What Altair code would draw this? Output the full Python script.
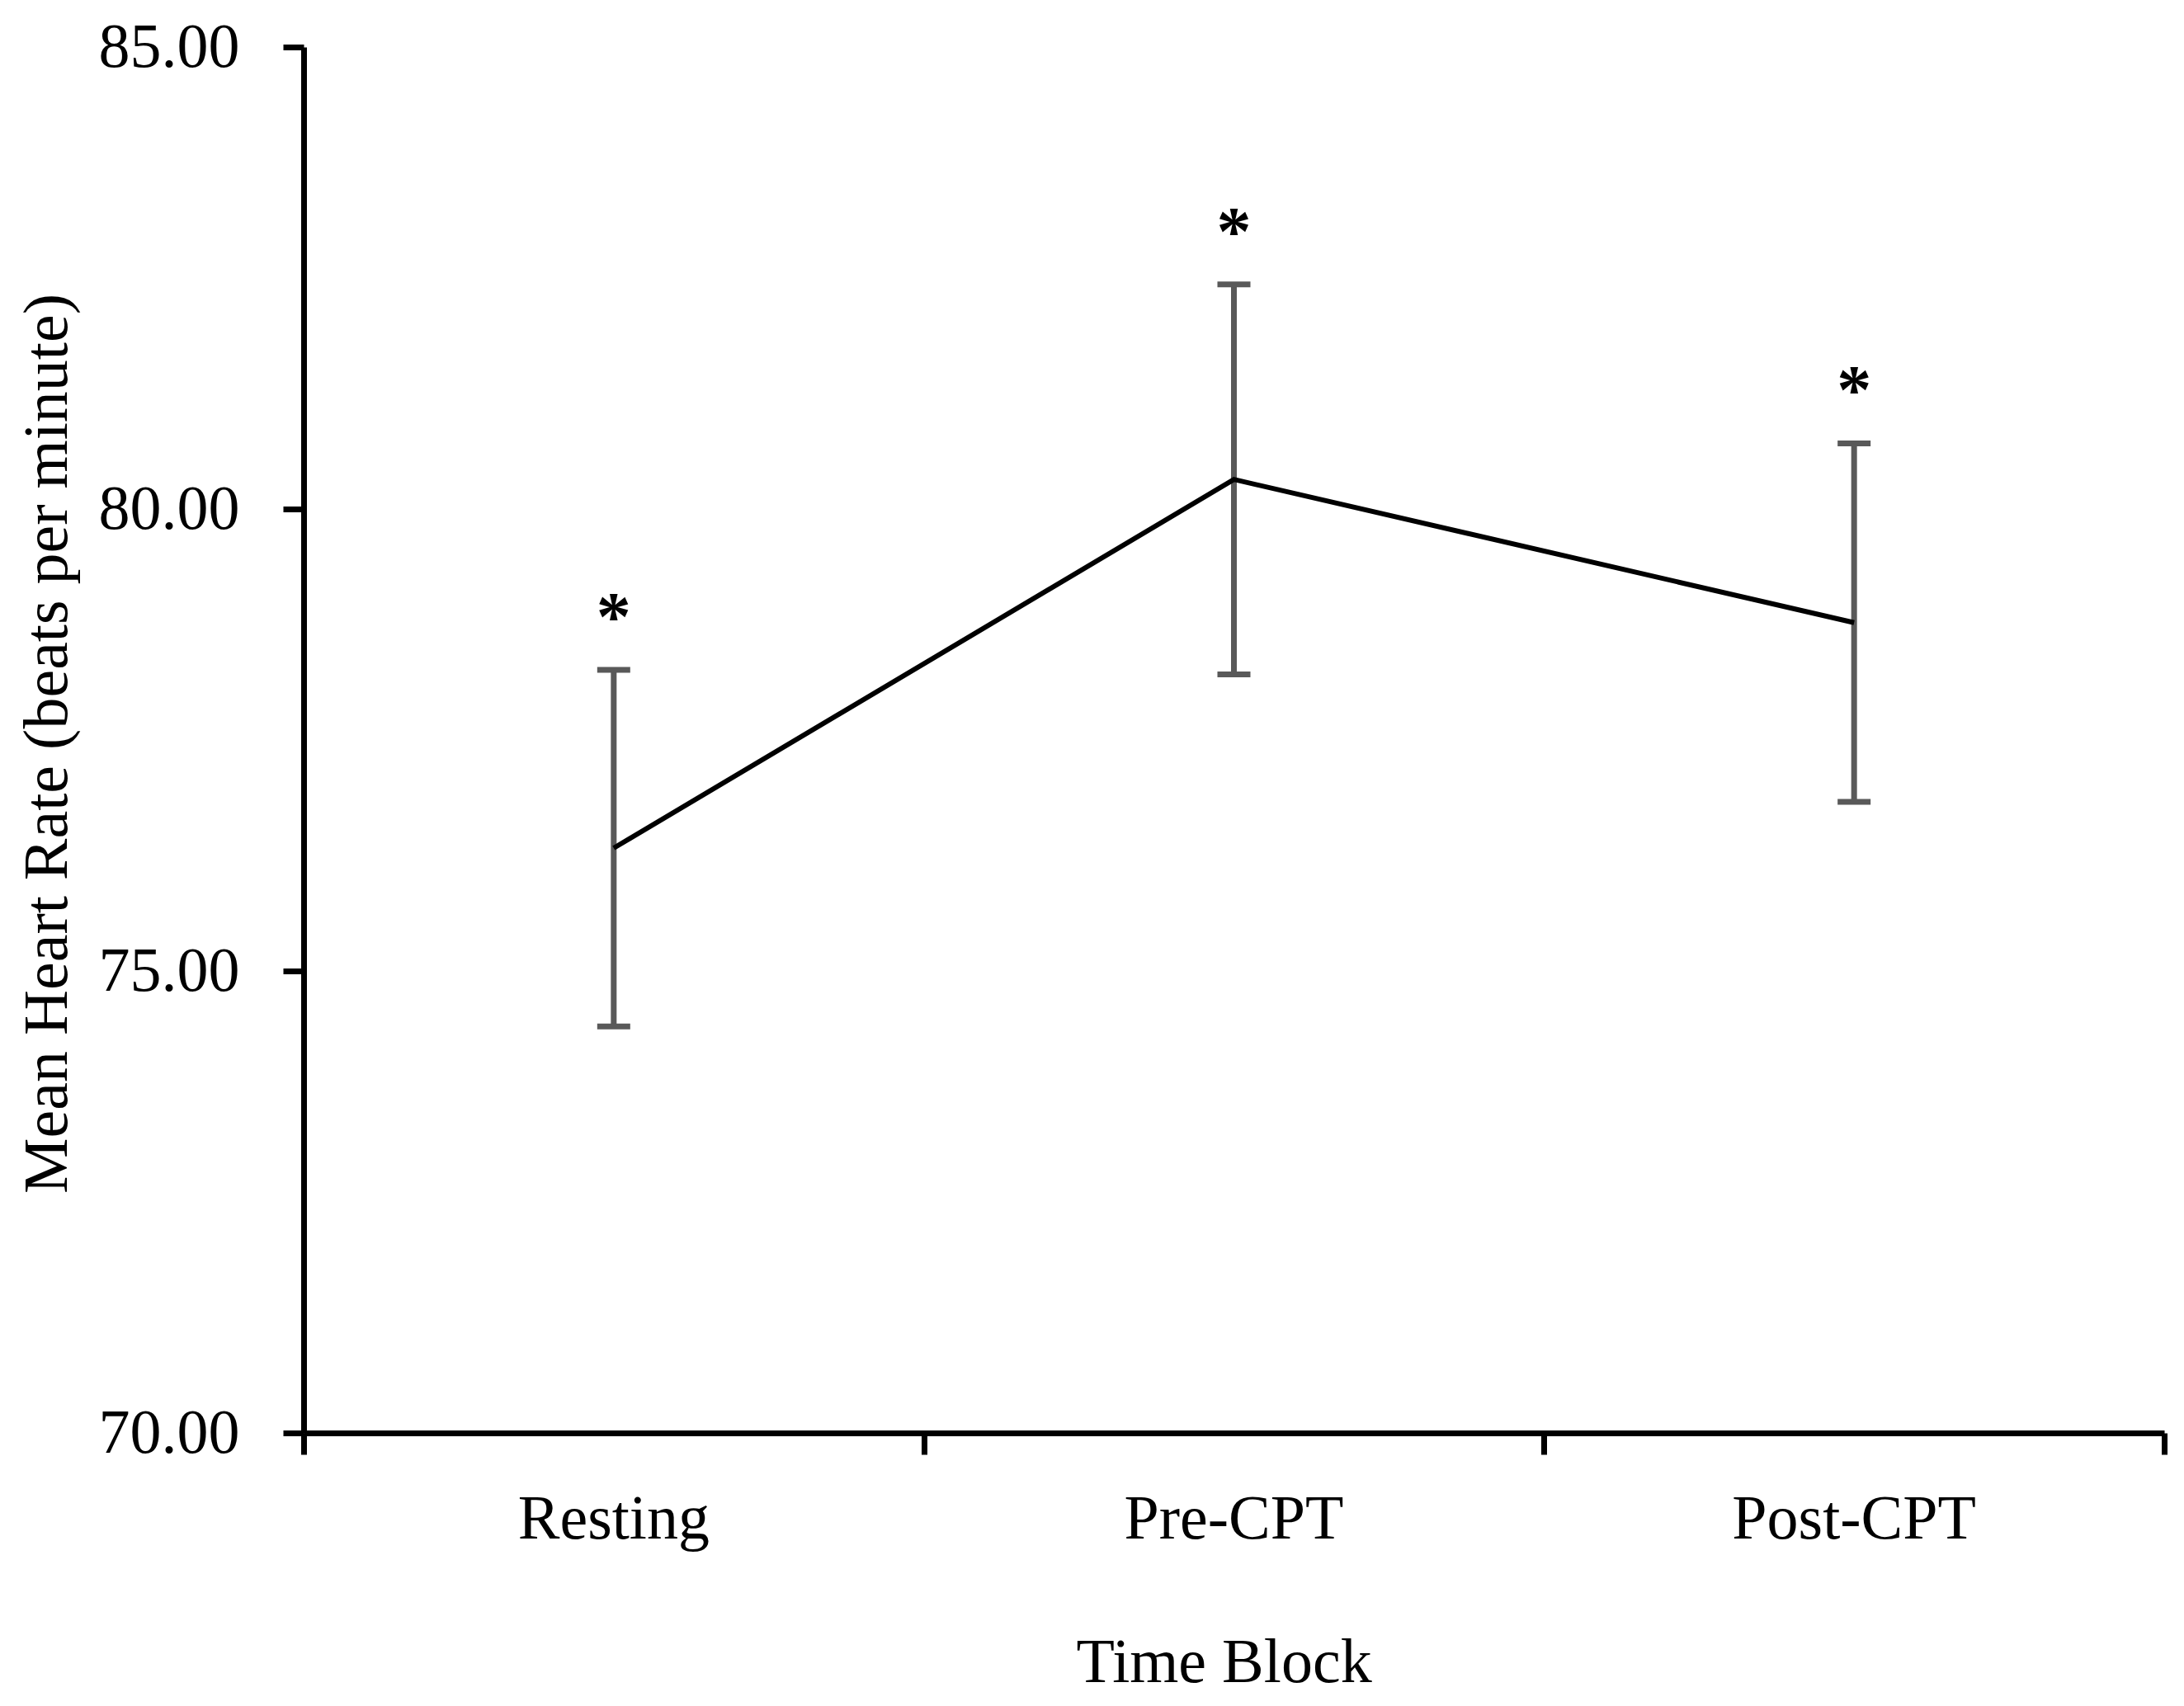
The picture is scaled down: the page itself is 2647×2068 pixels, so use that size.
import altair as alt
import numpy as np
import pandas as pd

# Data
blocks = ["Resting", "Pre-CPT", "Post-CPT"]
means = [76.33, 80.32, 78.77]
errors = [1.93, 2.11, 1.94]
stars = ["*", "*", "*"]
y_ticks = [70, 75, 80, 85]
x_ticks = [0, 1, 2, 3]

df = pd.DataFrame({
    "block": blocks,
    "mean": means,
    "err": errors,
    "star": stars,
})
df["pos"] = np.arange(len(blocks)) + 0.5
df["lo"] = df["mean"] - df["err"]
df["hi"] = df["mean"] + df["err"]

FONT = "Liberation Serif"
FS = 76
W, H = 2255, 1680
GRAY = "#595959"

xscale = alt.Scale(domain=[0, 3], nice=False, zero=False)
yscale = alt.Scale(domain=[70, 85], nice=False, zero=False)

xaxis = alt.Axis(
    values=x_ticks, labels=False, grid=False,
    tickSize=26, tickWidth=7, tickColor="black",
    domainWidth=7, domainColor="black",
    title="Time Block", titleFont=FONT, titleFontSize=FS,
    titleFontWeight="normal", titleColor="black",
    titleX=1115, titleY=301, titleAlign="center", titleBaseline="alphabetic",
)
yaxis = alt.Axis(
    values=y_ticks, format=".2f", grid=False,
    tickSize=25, tickWidth=7, tickColor="black",
    domainWidth=7, domainColor="black",
    labelFont=FONT, labelFontSize=FS, labelColor="black", labelPadding=53,
    title="Mean Heart Rate (beats per minute)", titleFont=FONT,
    titleFontSize=FS, titleFontWeight="normal", titleColor="black",
    titleAngle=-90, titleX=-288, titleY=844, titleAlign="center",
    titleBaseline="alphabetic",
)

base = alt.Chart(df)

rules = base.mark_rule(color=GRAY, strokeWidth=7).encode(
    x=alt.X("pos:Q", scale=xscale, axis=xaxis),
    y=alt.Y("lo:Q", scale=yscale, axis=yaxis),
    y2="hi:Q",
)
cap_hi = base.mark_tick(orient="horizontal", size=40, thickness=7,
                        color=GRAY, opacity=1).encode(
    x=alt.X("pos:Q", scale=xscale), y=alt.Y("hi:Q", scale=yscale))
cap_lo = base.mark_tick(orient="horizontal", size=40, thickness=7,
                        color=GRAY, opacity=1).encode(
    x=alt.X("pos:Q", scale=xscale), y=alt.Y("lo:Q", scale=yscale))

line = base.mark_line(color="black", strokeWidth=6).encode(
    x=alt.X("pos:Q", scale=xscale), y=alt.Y("mean:Q", scale=yscale))

star_text = base.mark_text(font=FONT, fontSize=84, fontWeight="bold",
                           baseline="alphabetic", align="center", dy=-36,
                           color="black").encode(
    x=alt.X("pos:Q", scale=xscale), y=alt.Y("hi:Q", scale=yscale),
    text="star:N")

cat_labels = base.mark_text(font=FONT, fontSize=FS, baseline="alphabetic",
                            align="center", color="black").encode(
    x=alt.X("pos:Q", scale=xscale), y=alt.value(H + 128), text="block:N")

chart = alt.layer(rules, cap_hi, cap_lo, line, star_text, cat_labels).properties(
    width=W, height=H,
    background="white",
    autosize=alt.AutoSizeParams(type="none"),
    padding={"left": 360, "top": 49, "right": 16, "bottom": 323},
).configure_view(stroke=None, strokeWidth=0)

chart.save("out.html", embed_options={"renderer": "svg", "actions": False})
